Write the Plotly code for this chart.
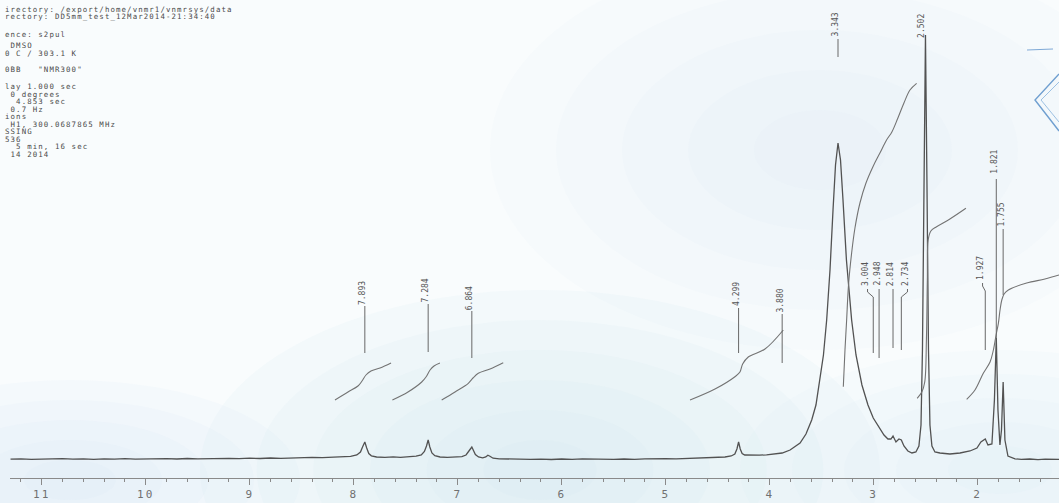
import plotly.graph_objects as go

# ---------------------------------------------------------------
# 1H NMR (300 MHz, DMSO-d6) trace, chemical shift in ppm
# ---------------------------------------------------------------
shift_ppm = [
    11.30, 11.20, 11.10, 11.00, 10.90, 10.80, 10.70, 10.60, 10.50, 10.40,
    10.30, 10.20, 10.10, 10.00, 9.90, 9.80, 9.70, 9.60, 9.50, 9.40,
    9.30, 9.20, 9.10, 9.00, 8.90, 8.80, 8.70, 8.60, 8.50, 8.40,
    8.30, 8.20, 8.10, 8.03, 7.97, 7.935, 7.915, 7.893, 7.875, 7.855,
    7.83, 7.78, 7.70, 7.62, 7.55, 7.47, 7.40, 7.35, 7.32, 7.30,
    7.284, 7.268, 7.248, 7.22, 7.17, 7.10, 7.03, 6.96, 6.92, 6.895,
    6.878, 6.864, 6.848, 6.83, 6.80, 6.76, 6.73, 6.71, 6.69, 6.66,
    6.60, 6.50, 6.40, 6.30, 6.20, 6.10, 6.00, 5.90, 5.80, 5.70,
    5.60, 5.50, 5.40, 5.30, 5.20, 5.10, 5.00, 4.90, 4.80, 4.70,
    4.60, 4.50, 4.43, 4.37, 4.335, 4.315, 4.299, 4.283, 4.265, 4.24,
    4.18, 4.10, 4.03, 3.96, 3.880, 3.804, 3.708, 3.651, 3.596, 3.555,
    3.517, 3.483, 3.452, 3.420, 3.391, 3.367, 3.343, 3.319, 3.295, 3.262,
    3.212, 3.170, 3.113, 3.055, 3.004, 2.948, 2.901, 2.863, 2.834, 2.814,
    2.786, 2.757, 2.734, 2.709, 2.671, 2.632, 2.594, 2.565, 2.545, 2.531,
    2.517, 2.502, 2.488, 2.473, 2.459, 2.440, 2.411, 2.363, 2.267, 2.170,
    2.074, 2.007, 1.969, 1.927, 1.901, 1.863, 1.839, 1.821, 1.805, 1.786,
    1.771, 1.755, 1.738, 1.709, 1.641, 1.58, 1.50, 1.42, 1.35, 1.28,
    1.218,
]
intensity = [
    0.8, 1.2, 0.6, 1.0, 0.7, 1.3, 0.8, 1.1, 0.6, 1.2,
    0.9, 1.4, 0.8, 1.1, 0.7, 1.3, 1.0, 1.5, 1.1, 1.4,
    1.2, 1.7, 1.3, 1.8, 1.5, 2.0, 1.7, 2.2, 2.0, 2.6,
    2.4, 3.0, 3.1, 3.6, 5.0, 8.0, 13.0, 18.0, 12.0, 6.5,
    4.2, 3.0, 2.6, 3.1, 2.7, 3.3, 3.8, 5.0, 8.5, 14.0,
    20.0, 13.0, 7.0, 4.3, 3.0, 2.6, 2.9, 3.4, 5.0, 8.0,
    11.0, 13.0, 9.5, 5.5, 3.0, 2.2, 3.0, 4.8, 3.8, 1.8,
    1.2, 0.8, 1.1, 0.6, 0.9, 0.5, 1.0, 0.7, 1.2, 0.8,
    1.1, 0.6, 1.0, 0.7, 1.2, 0.9, 1.3, 1.1, 1.6, 1.4,
    2.0, 2.4, 3.0, 4.0, 6.0, 11.0, 18.0, 11.0, 6.5, 5.0,
    4.6, 4.8, 5.2, 6.0, 7.0, 10.0, 17.0, 26.0, 40.0, 55.0,
    80.0, 105.0, 140.0, 190.0, 250.0, 295.0, 317.0, 300.0, 260.0, 200.0,
    140.0, 105.0, 75.0, 55.0, 42.0, 32.0, 25.0, 21.0, 21.0, 24.0,
    18.0, 21.0, 20.0, 14.0, 9.0, 7.0, 8.0, 14.0, 35.0, 110.0,
    280.0, 425.0, 280.0, 110.0, 35.0, 14.0, 8.0, 7.0, 6.0, 7.0,
    9.0, 12.0, 18.0, 21.0, 15.0, 16.0, 60.0, 122.0, 50.0, 15.0,
    30.0, 78.0, 20.0, 4.0, 1.2, 0.6, 1.0, 0.4, 0.8, 0.5,
    0.6,
]

# integral traces (running integral drawn over each multiplet)
int1_ppm = [8.180, 8.055, 7.959, 7.920, 7.882, 7.834, 7.747, 7.641]
int1_val = [60, 68, 74, 79, 85, 89, 92, 97]
int2_ppm = [7.628, 7.478, 7.346, 7.305, 7.266, 7.228, 7.171]
int2_val = [60, 68, 78, 83, 90, 94, 97]
int3_ppm = [7.154, 7.026, 6.898, 6.853, 6.802, 6.689, 6.562]
int3_val = [60, 68, 76.7, 82, 86.7, 91, 97.3]
int4_ppm = [4.766, 4.526, 4.334, 4.286, 4.260, 4.206, 4.045, 3.869]
int4_val = [60, 71, 83.3, 88, 96, 103, 111, 130]
int5_ppm = [3.292, 3.276, 3.260, 3.242, 3.212, 3.180, 3.132, 3.074, 3.007,
            2.940, 2.876, 2.825, 2.767, 2.709, 2.651, 2.587]
int5_val = [73.3, 110, 140, 175, 207, 232, 257, 277, 293.3,
            307, 320, 328, 342, 357, 370, 376.7]
int6_ppm = [2.582, 2.537, 2.509, 2.493, 2.484, 2.476, 2.450, 2.395, 2.267, 2.113]
int6_val = [61.7, 68, 78, 120, 180, 220, 229, 233.3, 241, 251.7]
int7_ppm = [2.106, 2.026, 1.946, 1.881, 1.849, 1.823, 1.801, 1.785, 1.768,
            1.746, 1.705, 1.529, 1.353, 1.218]
int7_val = [60.7, 70, 86.7, 98, 110, 125, 136.7, 150, 160,
            166, 170, 177, 181, 185]

# peak-pick list
peak_labels = ["7.893", "7.284", "6.864", "4.299", "3.880", "3.343", "2.502",
               "3.004", "2.948", "2.814", "2.734", "1.927", "1.821", "1.755"]

# x tick labels (ppm)
tick_values = [11, 10, 9, 8, 7, 6, 5, 4, 3, 2]

# acquisition parameter listing
param_lines = [
    "irectory: /export/home/vnmr1/vnmrsys/data",
    "rectory: DD5mm_test_12Mar2014-21:34:40",
    "ence: s2pul",
    " DMSO",
    "0 C / 303.1 K",
    "0BB   \"NMR300\"",
    "lay 1.000 sec",
    " 0 degrees",
    "  4.853 sec",
    " 0.7 Hz",
    "ions",
    " H1, 300.0687865 MHz",
    "SSING",
    "536",
    "  5 min, 16 sec",
    " 14 2014",
]

# ---------------------------------------------------------------
# placement: label text centre (ppm, height), leader top, leader bottom
# ---------------------------------------------------------------
label_place = {
    "7.893": (7.920, 167, 154, 107),
    "7.284": (7.310, 170, 156, 108),
    "6.864": (6.889, 162, 149, 102),
    "4.299": (4.324, 166, 152, 107),
    "3.880": (3.905, 159, 146, 97),
    "3.343": (3.368, 436, 421, 403),
    "2.502": (2.546, 434, 421, 421),
    "3.004": (3.084, 186, 171, 107),
    "2.948": (2.972, 186, 171, 102),
    "2.814": (2.840, 186, 171, 112),
    "2.734": (2.700, 186, 171, 110),
    "1.927": (1.978, 192, 177, 110),
    "1.821": (1.846, 298, 281, 122),
    "1.755": (1.780, 245, 231, 165),
}
param_y_px = [9, 17, 34, 45, 53, 69, 86.5, 94, 101.5, 109, 116.5, 124, 131.5, 139, 146.5, 154]

W, H = 1059, 503
PLOT_H = 478  # plot area height (bottom margin holds tick labels)

def px_x(px):
    return px / W

def px_y(py):
    return (PLOT_H - py) / PLOT_H

SPEC_COLOR = "#525252"
INT_COLOR = "#737373"
LEAD_COLOR = "#686868"
INK_BLUE = "#6f9fd0"
TINT = "#cfe4f1"

fig = go.Figure()

fig.add_trace(go.Scatter(
    x=shift_ppm, y=intensity, mode="lines",
    line=dict(color=SPEC_COLOR, width=1.3), hoverinfo="skip",
))

for xs, ys in [(int1_ppm, int1_val), (int2_ppm, int2_val), (int3_ppm, int3_val),
               (int4_ppm, int4_val), (int5_ppm, int5_val), (int6_ppm, int6_val),
               (int7_ppm, int7_val)]:
    fig.add_trace(go.Scatter(
        x=xs, y=ys, mode="lines", line=dict(color=INT_COLOR, width=1.1, shape="spline"),
        hoverinfo="skip",
    ))

annotations = []
for lab in peak_labels:
    peak = float(lab)
    tx, ty, ltop, lbot = label_place[lab]
    start = tx - 0.025
    if abs(start - peak) < 0.02:
        lx, ly = [peak, peak], [ltop, lbot]
    else:
        lx = [start, start, peak, peak]
        ly = [ltop, ltop - 3, ltop - 8, lbot]
    fig.add_trace(go.Scatter(
        x=lx, y=ly, mode="lines", line=dict(color=LEAD_COLOR, width=1),
        hoverinfo="skip",
    ))
    annotations.append(dict(
        x=tx, y=ty, xref="x", yref="y", text=lab, showarrow=False,
        textangle=-90, xanchor="center", yanchor="middle",
        font=dict(family="DejaVu Sans Mono", size=8, color="#555555"),
    ))

for line, py in zip(param_lines, param_y_px):
    annotations.append(dict(
        x=px_x(3), y=px_y(py), xref="paper", yref="paper",
        text=f"<span style='letter-spacing:1.1px'>{line.replace(' ', '&nbsp;')}</span>",
        showarrow=False, xanchor="left", yanchor="middle",
        font=dict(family="DejaVu Sans Mono", size=7.4, color="#4a4a4a"),
    ))

# soft blue tint of the chart paper, built up from stacked translucent ellipses
shapes = []
def tint(cx, cy, rx, ry, steps, alpha):
    for k in range(steps):
        f = 1 - k / steps
        shapes.append(dict(
            type="circle", xref="paper", yref="paper", layer="below",
            x0=px_x(cx - rx * f), x1=px_x(cx + rx * f),
            y0=px_y(cy + ry * f), y1=px_y(cy - ry * f),
            fillcolor=TINT, opacity=alpha, line=dict(width=0),
        ))

tint(540, 470, 340, 180, 6, 0.12)
tint(70, 480, 230, 100, 5, 0.1)
tint(1000, 470, 260, 120, 5, 0.09)
tint(820, 150, 330, 200, 5, 0.06)

shapes += [
    # blue ink stamp at the right edge
    dict(type="path", xref="paper", yref="paper",
         path=f"M {px_x(1059)} {px_y(74)} L {px_x(1035)} {px_y(100)} L {px_x(1059)} {px_y(131)}",
         line=dict(color=INK_BLUE, width=1.4)),
    dict(type="path", xref="paper", yref="paper",
         path=f"M {px_x(1059)} {px_y(82)} L {px_x(1041)} {px_y(100)} L {px_x(1059)} {px_y(122)}",
         line=dict(color="#9cc0e2", width=1)),
    dict(type="line", xref="paper", yref="paper",
         x0=px_x(1027), y0=px_y(50), x1=px_x(1053), y1=px_y(49),
         line=dict(color="#7fa9d6", width=1.2)),
]

fig.update_layout(
    width=W, height=H,
    margin=dict(l=0, r=0, t=0, b=H - PLOT_H),
    paper_bgcolor="#f9fcfd",
    plot_bgcolor="rgba(0,0,0,0)",
    showlegend=False,
    hovermode=False,
    annotations=annotations,
    shapes=shapes,
    xaxis=dict(
        domain=[10 / W, 1], range=[11.305, 1.218],
        tickmode="array", tickvals=tick_values,
        ticktext=[f"<span style='letter-spacing:2px'>{t}</span>" for t in tick_values],
        ticks="outside", ticklen=6, tickcolor="#8a8a8a", tickwidth=1,
        minor=dict(tickmode="linear", tick0=0, dtick=0.2, ticks="outside",
                   ticklen=3, tickcolor="#8a8a8a"),
        showline=True, linecolor="#8a8a8a", linewidth=1,
        showgrid=False, zeroline=False,
        tickfont=dict(family="DejaVu Sans Mono", size=11, color="#707070"),
    ),
    yaxis=dict(visible=False, range=[-18, 460], showgrid=False, zeroline=False),
)

fig.write_html("out.html")
